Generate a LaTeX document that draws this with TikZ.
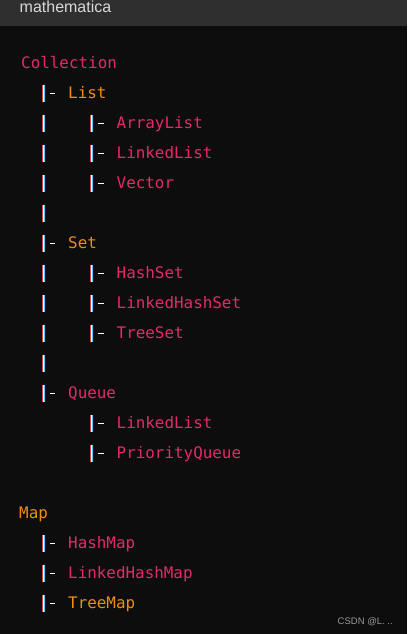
\documentclass[tikz,border=0pt]{standalone}
\usepackage{fontspec}
\setmonofont{DejaVu Sans Mono}
\newfontfamily\hdrfont{Liberation Sans}
\definecolor{bgc}{HTML}{0D0D0D}
\definecolor{hdrc}{HTML}{2F2F2F}
\definecolor{hdrtxt}{HTML}{D8D8D8}
\definecolor{pinkc}{HTML}{E42A68}
\definecolor{orangec}{HTML}{EE8E10}
\definecolor{wmc}{HTML}{9A9A9A}
\definecolor{fringer}{HTML}{D04848}
\definecolor{fringeb}{HTML}{50D0F8}
\tikzset{
  code/.style={anchor=base west, inner sep=0pt, font=\ttfamily\fontsize{15.9}{16}\selectfont},
  pk/.style={code, text=pinkc},
  og/.style={code, text=orangec},
  dashline/.style={draw=white, line width=1.3pt},
}
\newcommand{\vbar}[2]{% x, baseline
  \fill[fringer] (#1+0.4,#2-13) rectangle (#1+1,#2+4);
  \fill[white] (#1+1,#2-13) rectangle (#1+2.4,#2+4);
  \fill[fringeb] (#1+2.4,#2-13) rectangle (#1+3,#2+4);
}
\newcommand{\levone}[1]{\vbar{42}{#1}}
\newcommand{\levonedash}[1]{\vbar{42}{#1}\draw[dashline] (50,#1-4.5) -- (55,#1-4.5);}
\newcommand{\levtwodash}[1]{\vbar{90}{#1}\draw[dashline] (98,#1-4.5) -- (103.5,#1-4.5);}
\begin{document}
\begin{tikzpicture}[x=1pt,y=-1pt]
\fill[bgc] (0,0) rectangle (407,634);
\useasboundingbox (0,0) rectangle (407,634);
\fill[hdrc] (0,0) rectangle (407,26.5);
\node[anchor=base west, inner sep=0pt, text=hdrtxt, font=\hdrfont\fontsize{16}{16}\selectfont] (hdr) at (19.5,12.9) {mathematica};
% Collection
\node[pk] (coll) at (21,68.5) {Collection};
\levonedash{98}  \node[og] (list) at (68,98.5) {List};
\levone{128}\levtwodash{128} \node[pk] (al) at (116.5,128.5) {ArrayList};
\levone{158}\levtwodash{158} \node[pk] (ll) at (116.5,158.5) {LinkedList};
\levone{188}\levtwodash{188} \node[pk] (vec) at (116.5,188.5) {Vector};
\levone{218}
\levonedash{248} \node[og] (set) at (68,248.5) {Set};
\levone{278}\levtwodash{278} \node[pk] (hs) at (116.5,278.5) {HashSet};
\levone{308}\levtwodash{308} \node[pk] (lhs) at (116.5,308.5) {LinkedHashSet};
\levone{338}\levtwodash{338} \node[pk] (ts) at (116.5,338.5) {TreeSet};
\levone{368}
\levonedash{398} \node[pk] (queue) at (68,398.5) {Queue};
\levtwodash{428} \node[pk] (qll) at (116.5,428.5) {LinkedList};
\levtwodash{458} \node[pk] (pq) at (116.5,458.5) {PriorityQueue};
% Map
\node[og] (map) at (19,518.5) {Map};
\levonedash{548} \node[pk] (hm) at (68,548.5) {HashMap};
\levonedash{578} \node[pk] (lhm) at (68,578.5) {LinkedHashMap};
\levonedash{608} \node[og] (tm) at (68,608.5) {TreeMap};
% watermark
\node[anchor=base west, inner sep=0pt, text=wmc, font=\hdrfont\fontsize{9.5}{10}\selectfont] (wm) at (337.5,624.5) {CSDN @L. ..};
\end{tikzpicture}
\end{document}
